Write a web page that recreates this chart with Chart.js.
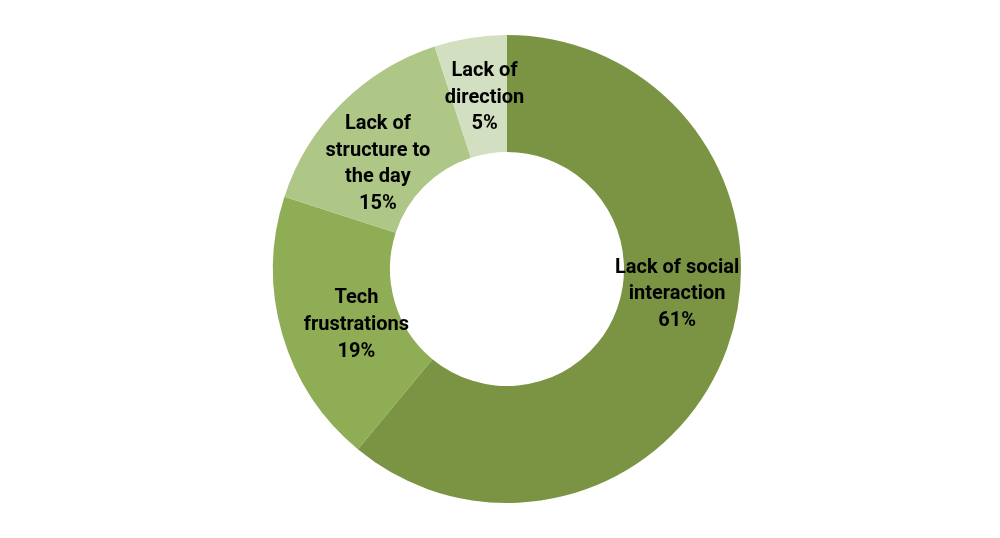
<!DOCTYPE html>
<html><head><meta charset="utf-8">
<script src="https://cdn.jsdelivr.net/npm/chart.js@4"></script>
<style>html,body{margin:0;padding:0;background:#fff}#wrap{width:1000px;height:538px}</style>
</head><body><div id="wrap"><canvas id="c"></canvas></div>
<script>
const categories = [["Lack of social","interaction"],["Tech","frustrations"],["Lack of","structure to","the day"],["Lack of","direction"]];
const values = [61, 19, 15, 5];
const colors = ['#7a9444', '#8fad55', '#aec787', '#d2dfc0'];
const labelNudge = [[5,-34],[18,7],[-5,19],[5,2]];

const labelPlugin = {
  id: 'sliceLabels',
  afterDatasetsDraw(chart) {
    const ctx = chart.ctx;
    const meta = chart.getDatasetMeta(0);
    ctx.save();
    ctx.font = 'bold 20px Roboto';
    ctx.fillStyle = '#000';
    ctx.textAlign = 'center';
    ctx.textBaseline = 'middle';
    meta.data.forEach((arc, i) => {
      const p = arc.tooltipPosition();
      const lines = categories[i].concat([values[i] + '%']);
      const lh = 26.7;
      const cx = p.x + labelNudge[i][0];
      const cy = p.y + labelNudge[i][1];
      const top = cy - (lines.length - 1) * lh / 2;
      lines.forEach((t, k) => ctx.fillText(t, cx, top + k * lh));
    });
    ctx.restore();
  }
};

new Chart(document.getElementById('c'), {
  type: 'doughnut',
  data: {
    labels: categories.map(l => l.join(' ')),
    datasets: [{ data: values, backgroundColor: colors, borderWidth: 0 }]
  },
  options: {
    responsive: true,
    maintainAspectRatio: false,
    animation: false,
    cutout: '50%',
    layout: { padding: { top: 35, bottom: 35, left: 14, right: 0 } },
    plugins: { legend: { display: false }, tooltip: { enabled: false } }
  },
  plugins: [labelPlugin]
});
</script></body></html>
